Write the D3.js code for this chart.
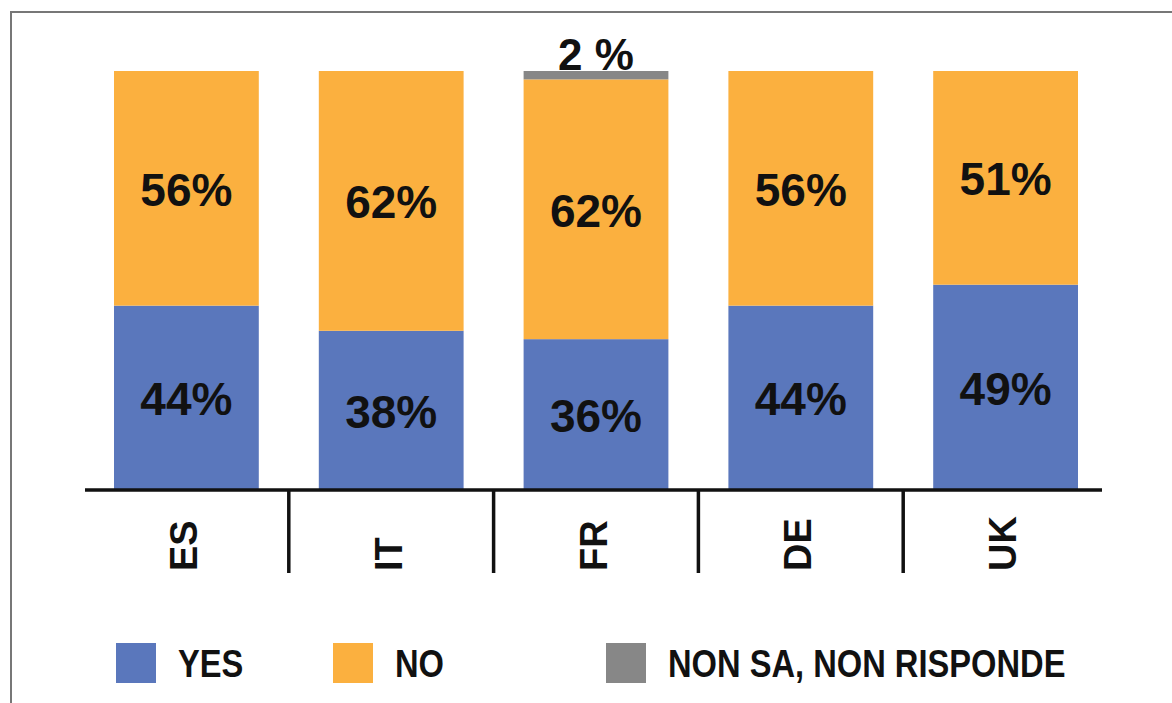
<!DOCTYPE html>
<html>
<head>
<meta charset="utf-8">
<script src="https://cdn.jsdelivr.net/npm/d3@7"></script>
<style>
  body { margin: 0; background: #fff; }
  text { font-family: "Liberation Sans", Arial, sans-serif; font-weight: bold; fill: #111; }
</style>
</head>
<body>
<svg id="vis-svg" width="1172" height="703"></svg>
<script>

// Data
var countries = ["ES", "IT", "FR", "DE", "UK"];
var yesValues = [44, 38, 36, 44, 49];
var noValues = [56, 62, 62, 56, 51];
var nonSaValues = [0, 0, 2, 0, 0];
var seriesNames = ["YES", "NO", "NON SA, NON RISPONDE"];

var colors = ["#5a77bc", "#fbb03f", "#878787"];

var data = countries.map(function(c, i) {
  return { country: c, yes: yesValues[i], no: noValues[i], nonsa: nonSaValues[i] };
});

var svg = d3.select('#vis-svg');

// frame
svg.append('path')
  .attr('d', 'M11,703 L11,12 L1172,12')
  .attr('fill', 'none')
  .attr('stroke', '#777')
  .attr('stroke-width', 2);

// Scales
var xScale = d3.scaleBand()
  .domain(countries)
  .range([84, 1108])
  .paddingInner(0.293)
  .paddingOuter(0.1465);

var baseY = 490;
var yScale = d3.scaleLinear()
  .domain([0, 100])
  .range([baseY, 71]);

var stack = d3.stack().keys(["yes", "no", "nonsa"]);
var layers = stack(data);

// Bars
var layerGroups = svg.append('g')
  .selectAll('g')
  .data(layers)
  .enter()
  .append('g')
  .attr('fill', function(d, i) { return colors[i]; });

layerGroups.selectAll('rect')
  .data(function(d) { return d; })
  .enter()
  .append('rect')
  .attr('x', function(d) { return xScale(d.data.country); })
  .attr('width', xScale.bandwidth())
  .attr('y', function(d) { return yScale(d[1]); })
  .attr('height', function(d) { return yScale(d[0]) - yScale(d[1]); });

// Segment labels (YES / NO)
layers.slice(0, 2).forEach(function(layer) {
  svg.append('g')
    .selectAll('text')
    .data(layer)
    .enter()
    .append('text')
    .attr('x', function(d) { return xScale(d.data.country) + xScale.bandwidth() / 2; })
    .attr('y', function(d) { return (yScale(d[0]) + yScale(d[1])) / 2 + 1; })
    .attr('dy', '0.36em')
    .style('text-anchor', 'middle')
    .style('font-size', '46px')
    .text(function(d) { return (d[1] - d[0]) + '%'; });
});

// small values above bar
svg.append('g')
  .selectAll('text')
  .data(data.filter(function(d) { return d.nonsa > 0; }))
  .enter()
  .append('text')
  .attr('x', function(d) { return xScale(d.country) + xScale.bandwidth() / 2; })
  .attr('y', yScale(100) - 1)
  .style('text-anchor', 'middle')
  .style('font-size', '44px')
  .text(function(d) { return d.nonsa + ' %'; });

// Baseline
svg.append('line')
  .attr('x1', 85)
  .attr('x2', 1102)
  .attr('y1', baseY)
  .attr('y2', baseY)
  .attr('stroke', '#111')
  .attr('stroke-width', 3.5);

// Dividers
svg.append('g')
  .selectAll('line')
  .data(countries.slice(1))
  .enter()
  .append('line')
  .attr('x1', function(d) { return xScale(d) - xScale.step() * xScale.paddingInner() / 2; })
  .attr('x2', function(d) { return xScale(d) - xScale.step() * xScale.paddingInner() / 2; })
  .attr('y1', baseY)
  .attr('y2', 573)
  .attr('stroke', '#111')
  .attr('stroke-width', 3.5);

// Country labels
svg.append('g')
  .selectAll('text')
  .data(countries)
  .enter()
  .append('text')
  .attr('transform', function(d) {
    return 'translate(' + (xScale(d) + xScale.bandwidth() / 2 - 3) + ',571) rotate(-90)';
  })
  .attr('dy', '0.36em')
  .style('text-anchor', 'start')
  .style('font-size', '38px')
  .text(function(d) { return d; });

// Legend
var legendX = [116, 333, 606];
var legend = svg.append('g')
  .selectAll('g')
  .data(seriesNames)
  .enter()
  .append('g')
  .attr('transform', function(d, i) { return 'translate(' + legendX[i] + ',643)'; });

legend.append('rect')
  .attr('width', 40)
  .attr('height', 40)
  .attr('fill', function(d, i) { return colors[i]; });

legend.append('text')
  .attr('transform', 'translate(62,20) scale(0.86,1)')
  .attr('dy', '0.36em')
  .style('font-size', '38px')
  .text(function(d) { return d; });

</script>
</body>
</html>
